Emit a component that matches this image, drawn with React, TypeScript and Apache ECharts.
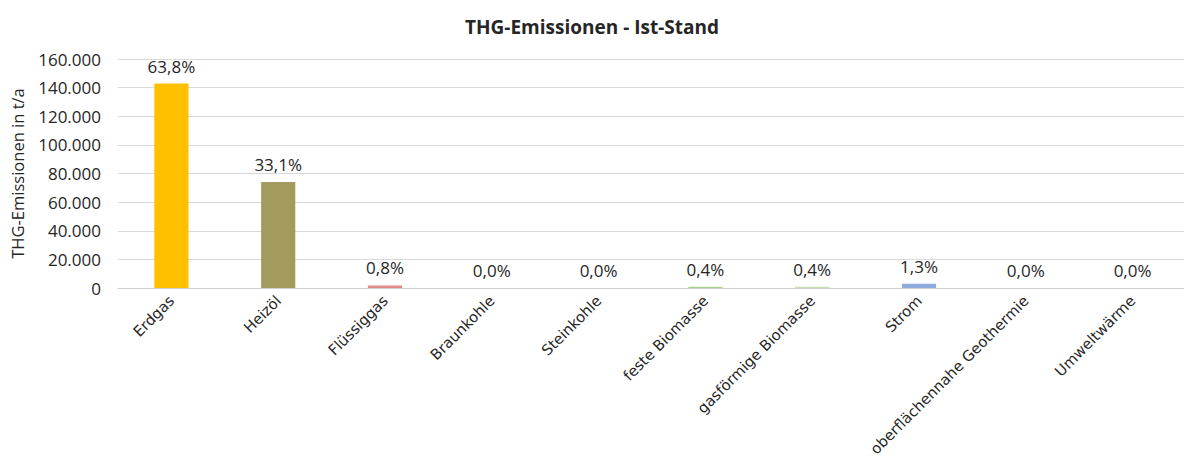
import React, { useEffect, useRef } from "react";
import * as echarts from "echarts";

const categories = [
  "Erdgas",
  "Heizöl",
  "Flüssiggas",
  "Braunkohle",
  "Steinkohle",
  "feste Biomasse",
  "gasförmige Biomasse",
  "Strom",
  "oberflächennahe Geothermie",
  "Umweltwärme",
];
const values = [142800, 74100, 1790, 0, 0, 900, 900, 2910, 0, 0];
const shareLabels = ["63,8%", "33,1%", "0,8%", "0,0%", "0,0%", "0,4%", "0,4%", "1,3%", "0,0%", "0,0%"];
const barColors = ["#FFC000", "#A39B5E", "#E38A8A", "#B0B0B0", "#B0B0B0", "#A9D18E", "#C5E0B4", "#8FAADC", "#B0B0B0", "#B0B0B0"];
const yTicks = { min: 0, max: 160000, interval: 20000 };
const titleText = "THG-Emissionen - Ist-Stand";
const yAxisName = "THG-Emissionen in t/a";

function fmt(v: number): string {
  const s = Math.round(v).toString();
  return s.replace(/\B(?=(\d{3})+(?!\d))/g, ".");
}

export default function App() {
  const ref = useRef<HTMLDivElement>(null);
  useEffect(() => {
    document.body.style.margin = "0";
    const chart = echarts.init(ref.current!, null, { renderer: "svg" });
    chart.setOption({
      animation: false,
      backgroundColor: "#ffffff",
      title: {
        text: titleText,
        left: "center",
        top: 12,
        textStyle: { fontFamily: "Open Sans", fontSize: 19, fontWeight: "bold", color: "#262626" },
      },
      grid: { left: 118, right: -2, top: 59, bottom: 176, containLabel: false, outerBoundsMode: "none" },
      xAxis: {
        type: "category",
        data: categories,
        axisTick: { show: false },
        axisLine: { lineStyle: { color: "#d0d0d0", width: 1 } },
        axisLabel: {
          rotate: 45,
          interval: 0,
          margin: 10,
          fontFamily: "DejaVu Sans",
          fontSize: 14.8,
          color: "#262626",
        },
      },
      yAxis: {
        type: "value",
        min: yTicks.min,
        max: yTicks.max,
        interval: yTicks.interval,
        name: yAxisName,
        nameLocation: "middle",
        nameGap: 92,
        nameTextStyle: { fontFamily: "Open Sans", fontSize: 16.5, color: "#262626" },
        axisLine: { show: false },
        axisTick: { show: false },
        axisLabel: {
          formatter: (v: number) => fmt(v),
          fontFamily: "Open Sans",
          fontSize: 17,
          color: "#262626",
          margin: 17,
        },
        splitLine: { lineStyle: { color: "#d9d9d9", width: 1 } },
      },
      series: [
        {
          type: "bar",
          barWidth: "32%",
          data: values.map((v, i) => ({ value: v, itemStyle: { color: barColors[i] } })),
          label: {
            show: true,
            position: "top",
            distance: 9,
            formatter: (p: any) => shareLabels[p.dataIndex],
            fontFamily: "Open Sans",
            fontSize: 17,
            color: "#262626",
          },
        },
      ],
    });
    return () => chart.dispose();
  }, []);
  return <div ref={ref} style={{ width: 1184, height: 464 }} />;
}
